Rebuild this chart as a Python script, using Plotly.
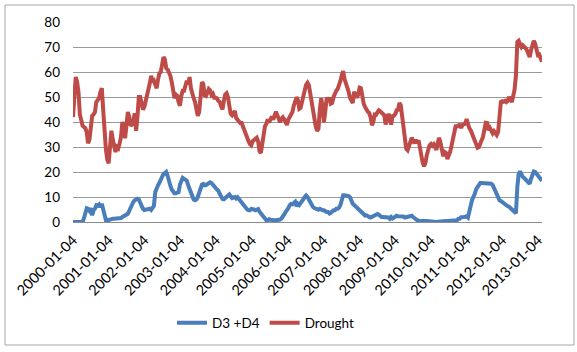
import pandas as pd
import plotly.graph_objects as go

start_date = "2000-01-04"
step = "14D"

drought = [
    42, 50, 58, 56, 52, 43, 40, 38.5, 38, 37.5,
    36, 31.5, 33, 39.5, 42.5, 43, 44, 48, 48.5, 49.5,
    52, 53.5, 45, 34, 29, 25, 23.5, 30, 36.5, 33,
    29.5, 28, 30, 29.5, 31.5, 34, 40, 38, 33.5, 40,
    44, 42, 38.5, 39, 40.5, 43.5, 36.5, 42, 50, 50,
    47, 45, 46, 48, 51.5, 53.5, 55.5, 58.5, 56, 56.5,
    54.5, 53.5, 57, 59.5, 60, 63, 66, 65, 61.5, 61,
    60, 58.5, 56, 52, 49.5, 51, 50.5, 48, 46.5, 50.5,
    52.5, 52.5, 55, 56.5, 55, 58, 53.5, 51, 49.5, 48,
    44, 42.5, 44,
    52, 55.9, 55.3, 50.7, 50.4, 52.4, 53.2, 52.7, 50.8, 51.3,
    49.7, 49.7, 49.5, 48.4, 48, 46.3, 45, 48.4, 51, 51.5,
    50, 46.5, 43.3, 42.7, 43.7, 44.4, 41.6, 41, 39.9, 39.6,
    39.6, 37.9, 36.3, 35.6, 34, 32.3, 31.2, 30.7, 32.3, 32.7,
    33.2, 33.7, 32.3, 28.4, 27.6, 31.6, 36.3, 38.3, 39.3, 41.1,
    39.9, 41, 42.1, 41, 42.7, 44.1, 42.7, 40.5, 39.9, 41.3,
    41.9, 41.1, 39.3, 38.8, 41, 42, 42.5, 44, 46.5, 48.9,
    49.9, 48.8, 45.3, 45.7, 48.7, 51.1, 52.7, 54.9, 55.7, 54.7,
    51.1, 47.1, 43.6, 41.3, 38.3, 36.4, 37.3, 45, 49.5, 46.3,
    39.9, 44.4, 49.7, 48.7, 49.7, 47.3, 47.6, 50, 51.5, 52.5,
    53.2, 54.5, 56.4, 58.7, 60.4, 57.2, 55.7, 54.1, 52.1, 49.7,
    48.7, 47.6, 52.1, 51.1, 49.7, 50.9, 53.7, 53.5, 48.9, 47.3,
    46, 44.7, 44.1, 43.6, 42, 38.7, 40, 43, 42.9, 43.9,
    44.7,
    44.3, 43.7, 43, 42.7, 39, 41.6, 43.2, 42.1, 38.9, 42.3,
    42.5, 43.2, 44.7, 44.9, 47.6, 46.7, 42, 36, 32, 29.3,
    28.7, 30, 32, 33.7, 32.5, 31.5, 32.9, 31.5, 32.7, 29.3,
    26.5, 23.7, 22.3, 23.6, 26.8, 29.1, 30.7, 31.2, 30.5, 31.1,
    30.3, 28.9, 31.7, 33.7, 31.7, 27.7, 26.3, 28, 27.6, 25.2,
    26.5, 28, 30.4, 33.7, 36.7, 38.3, 38.3, 38.3, 39.2, 37.6,
    38.8, 39.1, 39.3, 41.2, 38.9, 37.5, 36.7, 35.3, 34.1, 32.4,
    30.8, 29.7, 30, 31.5, 32.9, 34.1, 36.9, 39.7, 39.6, 36.8,
    37.6, 36, 35.5, 36.3, 35.6, 34.8, 36, 44, 48, 48.3,
    48.1, 48.5, 48, 48.5, 50, 49.1, 48, 50.4, 52.9, 58.7,
    72, 72.5, 71.2, 70, 70.7, 70.3, 69.6, 68.7, 67.2, 66,
    68.7, 71.3, 72.5, 71.3, 68.5, 66.8, 67, 65.2, 64.1,
]

d3_d4 = [
    0, 0, 0, 0, 0, 0, 0, 0, 1.5, 3,
    5.5, 5.3, 4.5, 5.5, 2.7, 4.7, 5.3, 6.7, 6.5, 7,
    6, 7.3, 5, 2, 0.7, 0.9, 0.7, 1, 1.3, 1.3,
    1.3, 1.3, 1.3, 1.3, 1.5, 1.6, 2, 2.3, 2.3, 2.7,
    3.3, 4.5, 6, 7.5, 8, 8.7, 9, 9.3, 9, 7.5,
    6, 5.3, 4.8, 4.9, 4.8, 5.2, 5.3, 4.8, 5.6, 6.5,
    12, 14, 14.7, 15.7, 17, 18.7, 19.3, 19.5, 20, 18.5,
    16, 14.5, 13, 12, 11.5, 11.5, 12, 12, 15, 17,
    17.7, 17.3, 17, 16.5, 14.7, 13.3, 11.5, 10, 9, 8.7,
    9, 10, 11.5,
    13.5, 14.9, 15.2, 14.7, 14.8, 15.2, 15.6, 15.9, 15.6, 14.7,
    14.2, 13.6, 13, 12.5, 11.3, 10.2, 9.2, 9.1, 9.6, 10.1,
    10.6, 11, 10.3, 9.6, 9.8, 10, 9.4, 9.9, 9.2, 8.5,
    7.8, 6.7, 6.1, 5.5, 5, 4.7, 4.7, 5.2, 5.3, 5,
    4.7, 4.8, 5.2, 4.1, 3.5, 2.9, 2.4, 1.4, 0.7, 0.7,
    1.1, 0.9, 0.7, 0.7, 0.7, 0.7, 0.7, 0.7, 1, 1.4,
    2, 3, 4, 4.6, 5.5, 6.7, 7.2, 7.1, 7.5, 8.1,
    6.3, 7.3, 6.8, 7.4, 8.1, 9.1, 10, 10.6, 10, 9,
    7.6, 6.5, 6, 5.6, 5.3, 5.1, 4.9, 5.3, 4.9, 4.7,
    4.7, 4.3, 4, 4, 3.4, 3.7, 4.3, 4.7, 4.7, 5.3,
    5.3, 5.7, 6.8, 9, 10.7, 10.7, 10.7, 10.7, 10.4, 9.9,
    8.1, 7.3, 6.8, 6.3, 5.9, 5.3, 4.8, 4.2, 3.6, 3,
    2.6, 2.7, 2.1, 2, 1.8, 2.1, 2.4, 2.7, 3, 3.2,
    2.9,
    2.3, 2, 2, 2, 1.8, 1.9, 1.8, 1.3, 2, 1.4,
    1.7, 2.1, 2.5, 2.3, 2.3, 2, 2.2, 2.2, 1.8, 2,
    2.3, 2.3, 2.5, 2.5, 2, 1.4, 1, 0.7, 0.5, 0.4,
    0.4, 0.4, 0.4, 0.4, 0.4, 0.3, 0.3, 0.2, 0.2, 0.1,
    0.1, 0, 0.1, 0.2, 0.4, 0.4, 0.4, 0.4, 0.4, 0.4,
    0.4, 0.4, 0.5, 0.7, 0.7, 0.7, 0.7, 1.3, 1.3, 1.9,
    1.8, 2, 2.1, 2.3, 1.8, 3.5, 6.5, 8.8, 9.8, 11.3,
    13.2, 14.2, 15.2, 15.6, 15.6, 15.6, 15.6, 15.6, 15.6, 15.6,
    15.3, 15.3, 14.8, 13.5, 11.8, 10.4, 9.1, 8.7, 8.4, 7.9,
    7.3, 7, 6.7, 6.3, 6.1, 5.6, 5.2, 4.9, 4.3, 3.5,
    14, 19.3, 20.2, 18.5, 18, 17.6, 17, 16.5, 16, 15.3,
    17.3, 19, 20.2, 20, 19.3, 18.7, 18.2, 17.2, 16.5,
]

tick_labels = [f"{y}-01-04" for y in range(2000, 2014)]
y_ticks = [0, 10, 20, 30, 40, 50, 60, 70, 80]

dates = pd.date_range(start_date, periods=len(drought), freq=step)

FONT = "Lato, 'Open Sans', sans-serif"
W, H = 577, 352
L, R, T, B = 73, 35, 22, 130
pw, ph = W - L - R, H - T - B

def px_x(px):
    return (px - L) / pw

def px_y(py):
    return (H - B - py) / ph

fig = go.Figure()
fig.add_trace(go.Scatter(x=dates, y=d3_d4, mode="lines", name="D3 +D4",
                         line=dict(color="#4a7ebb", width=4)))
fig.add_trace(go.Scatter(x=dates, y=drought, mode="lines", name="Drought",
                         line=dict(color="#be4b48", width=4)))

fig.update_layout(
    width=W, height=H,
    margin=dict(l=L, r=R, t=T, b=B),
    paper_bgcolor="white", plot_bgcolor="white",
    font=dict(family=FONT, size=13, color="#000000"),
    showlegend=True,
    legend=dict(orientation="h", x=px_x(172), xanchor="left",
                y=px_y(323), yanchor="middle", font=dict(size=13.5),
                itemwidth=30, bgcolor="rgba(0,0,0,0)"),
    xaxis=dict(type="date", range=[dates[0], dates[-1]],
               tickvals=tick_labels, ticktext=tick_labels, tickangle=-45,
               showgrid=False, showline=True, linecolor="#8c8c8c", linewidth=1,
               ticks="outside", ticklen=3, tickcolor="rgba(0,0,0,0)",
               tickfont=dict(size=14.5), zeroline=False),
    yaxis=dict(range=[0, 80], tickvals=y_ticks, showgrid=True,
               gridcolor="#9a9a9a", gridwidth=1, zeroline=False,
               showline=False, ticks="", tickfont=dict(size=13.5),
               ticklabelstandoff=12),
    shapes=[dict(type="rect", xref="paper", yref="paper",
                 x0=px_x(5), x1=px_x(574), y0=px_y(345), y1=px_y(5),
                 line=dict(color="#a6a6a6", width=1), layer="below")],
)

fig.write_html("out.html")
